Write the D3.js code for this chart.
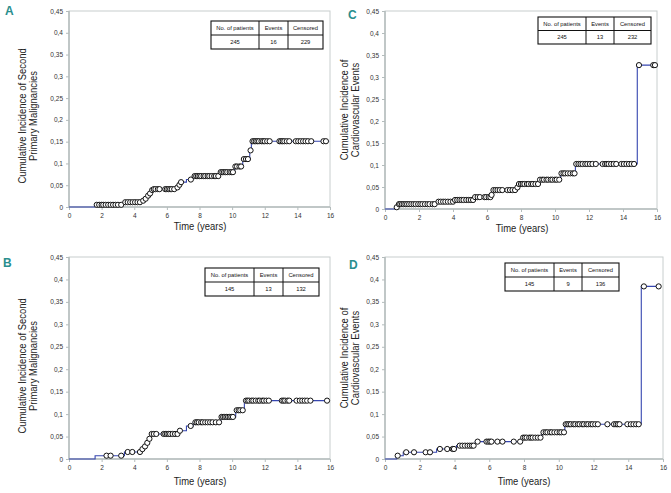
<!DOCTYPE html>
<html><head><meta charset="utf-8">
<script src="https://cdn.jsdelivr.net/npm/d3@7"></script>
<style>body{margin:0;background:#fff}</style>
</head><body><svg id="c" width="671" height="493"></svg>
<script>
// ---------- data ----------
const xTicks = [0, 2, 4, 6, 8, 10, 12, 14, 16];
const yTicks = [0, 0.05, 0.1, 0.15, 0.2, 0.25, 0.3, 0.35, 0.4, 0.45];
const yTickLabels = ["0", "0,05", "0,1", "0,15", "0,2", "0,25", "0,3", "0,35", "0,4", "0,45"];
const tableHeaders = ["No. of patients", "Events", "Censored"];
const xTitle = "Time (years)";
const yTitleSPM = ["Cumulative Incidence of Second", "Primary Malignancies"];
const yTitleCV = ["Cumulative Incidence of", "Cardiovascular Events"];

const A_table = ["245", "16", "229"];
const B_table = ["145", "13", "132"];
const C_table = ["245", "13", "232"];
const D_table = ["145", "9", "136"];

// step points [time, cumulative incidence]
const A_steps = [[0,0],[1.6,0.005],[3.3,0.011],[4.5,0.0145],[4.65,0.019],[4.8,0.026],[4.92,0.031],[5.05,0.039],[5.15,0.041],[6.6,0.045],[6.72,0.051],[6.82,0.057],[7.2,0.063],[7.6,0.071],[9.25,0.08],[10.15,0.093],[10.65,0.11],[11.08,0.13],[11.18,0.151]];
const A_end = 15.95;
const A_censored = [1.7,1.85,2.0,2.1,2.25,2.4,2.55,2.7,2.85,3.0,3.2, 3.45,3.6,3.75,3.9,4.05,4.2,4.35, 4.55,4.7,4.85,4.97,5.1, 5.2,5.3,5.45,5.55, 5.9,6.0,6.1,6.2,6.3,6.45, 6.65,6.77,6.87, 7.47, 7.7,7.8,7.9,8.0,8.1,8.25,8.35,8.5,8.6,8.75,8.9,9.0,9.15, 9.3,9.4,9.5,9.6,9.7,9.85,9.95,10.05, 10.2,10.3,10.45,10.55, 10.72,10.85,10.97, 11.13, 11.25,11.35,11.45,11.55,11.65,11.8,11.9,12.0,12.15,12.3, 12.9,13.0,13.1,13.2,13.35,13.5, 13.9,14.05,14.2,14.35,14.5,14.65,14.85, 15.6,15.75];

const B_steps = [[0,0],[1.6,0.0074],[3.4,0.0156],[4.45,0.022],[4.6,0.028],[4.75,0.036],[4.88,0.045],[5.0,0.0558],[6.72,0.063],[7.2,0.0736],[7.62,0.0818],[9.3,0.0937],[10.22,0.1086],[10.75,0.13]];
const B_end = 15.9;
const B_censored = [2.3,2.55,3.2, 3.6,3.88, 4.35, 4.5,4.66,4.8,4.93, 5.07,5.2,5.35, 5.8,5.9,6.0,6.1,6.2,6.35,6.5,6.65, 6.8, 7.46, 7.75,7.85,7.95,8.1,8.2,8.35,8.5,8.65,8.8,9.0,9.2, 9.35,9.45,9.55,9.65,9.75,9.85,9.95,10.05, 10.28,10.4,10.5,10.65, 10.85,10.95,11.05,11.2,11.3,11.45,11.6,11.7,11.85,11.95,12.1,12.25, 13.05,13.15,13.25,13.4,13.5, 13.95,14.15,14.3,14.45,14.6,14.8, 15.82];

const C_steps = [[0,0],[0.6,0.004],[0.75,0.011],[3.05,0.0166],[4.08,0.0205],[5.22,0.027],[6.25,0.032],[6.3,0.043],[7.77,0.049],[7.82,0.0568],[9.08,0.0666],[10.33,0.081],[11.2,0.1023],[14.84,0.327]];
const C_end = 15.95;
const C_censored = [0.69, 0.82,0.9,1.0,1.1,1.2,1.3,1.42,1.55,1.68,1.8,1.95,2.08,2.2,2.35,2.5,2.62,2.8,2.92, 3.15,3.28,3.42,3.55,3.7,3.85,4.0, 4.12,4.25,4.38,4.5,4.62,4.78,4.92,5.05,5.18, 5.3,5.45,5.58, 5.85,5.95,6.1,6.2, 6.27, 6.38,6.5,6.62,6.75,6.9, 7.2,7.35,7.5,7.65, 7.79, 7.88,8.0,8.1,8.2,8.35,8.45,8.6,8.7,8.85,9.0, 9.12,9.25,9.35,9.5,9.6,9.75,9.85,10.0,10.1,10.25, 10.38,10.5,10.6,10.75,10.9,11.05,11.15, 11.25,11.38,11.5,11.62,11.78,11.9,12.05,12.2,12.4, 12.8,12.95,13.05,13.15,13.3,13.45,13.6, 13.9,14.05,14.2,14.35,14.5,14.65, 14.94, 15.78,15.88];

const D_steps = [[0,0],[0.67,0.0074],[1.05,0.015],[2.97,0.0223],[4.12,0.0297],[5.2,0.0387],[7.89,0.0476],[9.02,0.0595],[10.35,0.0774],[14.75,0.3845]];
const D_end = 15.8;
const D_censored = [0.73, 1.22,1.67, 2.34,2.59, 3.16,3.58,3.89,3.97, 4.3,4.45,4.6,4.75,4.88,5.0,5.1, 5.33, 5.84,5.95,6.05,6.13, 6.47, 6.76, 7.41, 7.78, 7.95,8.05,8.15,8.3,8.4,8.5,8.65,8.8,8.95, 9.12,9.25,9.35,9.5,9.6,9.75,9.9,10.05,10.15,10.3, 10.4,10.5,10.6,10.7,10.85,10.95,11.1,11.2,11.35,11.45,11.6,11.7,11.85,11.95,12.1,12.25, 12.8, 13.18,13.3,13.4,13.5, 13.95,14.15,14.3,14.45,14.6, 14.9, 15.75];

// ---------- layout ----------
const panels = [
  {label:"A", steps:A_steps, cens:A_censored, end:A_end, table:A_table, title:yTitleSPM,
   x0:69, x1:330, y0:207, y1:11, tb:{x:211, y:21, w:[48,29,35], h:14},
   lx:5, ly:15, tx1:26, tx2:37, tcy:116, xtx:200, xty:230},
  {label:"C", steps:C_steps, cens:C_censored, end:C_end, table:C_table, title:yTitleCV,
   x0:385, x1:657, y0:209, y1:11, tb:{x:538, y:17, w:[48,28,37], h:13.5},
   lx:348, ly:19, tx1:348, tx2:359, tcy:110, xtx:522, xty:232},
  {label:"B", steps:B_steps, cens:B_censored, end:B_end, table:B_table, title:yTitleSPM,
   x0:69, x1:330, y0:459, y1:257, tb:{x:205, y:268, w:[49,29,36], h:14},
   lx:3, ly:267, tx1:26, tx2:37, tcy:366, xtx:200, xty:485},
  {label:"D", steps:D_steps, cens:D_censored, end:D_end, table:D_table, title:yTitleCV,
   x0:385, x1:663, y0:459, y1:257, tb:{x:505, y:263, w:[49,28,37], h:14},
   lx:349, ly:269, tx1:348, tx2:359, tcy:358, xtx:524, xty:485}
];

const svg = d3.select("#c");
const FONT = "'Liberation Sans', Arial, sans-serif";
const GRAY = "#b4bcbc";
const NARROW = 0.82; // condensed look of the original titles

function narrow(sel) {
  sel.each(function () {
    const w = this.getComputedTextLength();
    d3.select(this).attr("textLength", w * NARROW).attr("lengthAdjust", "spacingAndGlyphs");
  });
}

panels.forEach(p => {
  const g = svg.append("g");
  const x = d3.scaleLinear().domain([0, 16]).range([p.x0, p.x1]);
  const y = d3.scaleLinear().domain([0, 0.45]).range([p.y0, p.y1]);

  // frame
  g.append("rect").attr("x", p.x0).attr("y", p.y1).attr("width", p.x1 - p.x0).attr("height", p.y0 - p.y1)
    .attr("fill", "none").attr("stroke", "#c8cece").attr("stroke-width", 1);

  // axes
  const yAxis = d3.axisLeft(y).tickValues(yTicks).tickSize(3).tickPadding(3)
    .tickFormat((d, i) => yTickLabels[i]);
  const gy = g.append("g").attr("transform", `translate(${p.x0},0)`).call(yAxis);
  const xAxis = d3.axisBottom(x).tickValues(xTicks).tickSize(3).tickPadding(3);
  const gx = g.append("g").attr("transform", `translate(0,${p.y0})`).call(xAxis);
  [gx, gy].forEach(a => {
    a.select(".domain").attr("stroke", GRAY).attr("stroke-width", 1.5);
    a.selectAll(".tick line").attr("stroke", GRAY);
    a.selectAll(".tick text").attr("font-family", FONT).attr("font-size", 6.5).attr("fill", "#333");
  });
  gy.select(".domain").attr("d", `M0,${p.y0}V${p.y1}`);
  gx.select(".domain").attr("d", `M${p.x0},0H${p.x1}`);

  // step line
  const pts = p.steps.concat([[p.end, p.steps[p.steps.length - 1][1]]]);
  const line = d3.line().x(d => x(d[0])).y(d => y(d[1])).curve(d3.curveStepAfter);
  g.append("path").attr("d", line(pts)).attr("fill", "none").attr("stroke", "#3646b0").attr("stroke-width", 1.1);

  // censor marks
  const bis = d3.bisector(d => d[0]).right;
  const valAt = t => p.steps[Math.max(0, bis(p.steps, t) - 1)][1];
  g.selectAll("circle.c").data(p.cens).join("circle")
    .attr("cx", t => x(t)).attr("cy", t => y(valAt(t))).attr("r", 2.6)
    .attr("fill", "#fff").attr("stroke", "#111").attr("stroke-width", 1);

  // table
  const tb = g.append("g");
  const totalW = d3.sum(p.tb.w);
  let cx = p.tb.x;
  const colX = p.tb.w.map(w => { const s = cx; cx += w; return s; });
  tb.append("rect").attr("x", p.tb.x).attr("y", p.tb.y).attr("width", totalW).attr("height", p.tb.h * 2)
    .attr("fill", "#fff").attr("stroke", "#111").attr("stroke-width", 1.1);
  tb.append("line").attr("x1", p.tb.x).attr("x2", p.tb.x + totalW).attr("y1", p.tb.y + p.tb.h).attr("y2", p.tb.y + p.tb.h)
    .attr("stroke", "#111").attr("stroke-width", 1);
  colX.slice(1).forEach(cxv => tb.append("line").attr("x1", cxv).attr("x2", cxv)
    .attr("y1", p.tb.y).attr("y2", p.tb.y + 2 * p.tb.h).attr("stroke", "#111").attr("stroke-width", 1));
  [tableHeaders, p.table].forEach((row, r) => {
    row.forEach((txt, i) => {
      tb.append("text").attr("x", colX[i] + p.tb.w[i] / 2).attr("y", p.tb.y + p.tb.h * r + p.tb.h / 2 + 2)
        .attr("text-anchor", "middle").attr("font-family", FONT).attr("font-size", 5.8).attr("fill", "#111").text(txt);
    });
  });

  // panel letter
  g.append("text").attr("x", p.lx).attr("y", p.ly).attr("font-family", FONT).attr("font-weight", "bold")
    .attr("font-size", 12).attr("fill", "#2a8e8e").text(p.label);

  // y title
  [p.tx1, p.tx2].forEach((bx, i) => {
    g.append("text").attr("transform", `translate(${bx},${p.tcy}) rotate(-90)`)
      .attr("text-anchor", "middle").attr("font-family", FONT).attr("font-size", 11.5).attr("fill", "#222")
      .text(p.title[i]).call(narrow);
  });

  // x title
  g.append("text").attr("x", p.xtx).attr("y", p.xty).attr("text-anchor", "middle")
    .attr("font-family", FONT).attr("font-size", 11.5).attr("fill", "#222")
    .text(xTitle).call(narrow);
});
</script></body></html>
